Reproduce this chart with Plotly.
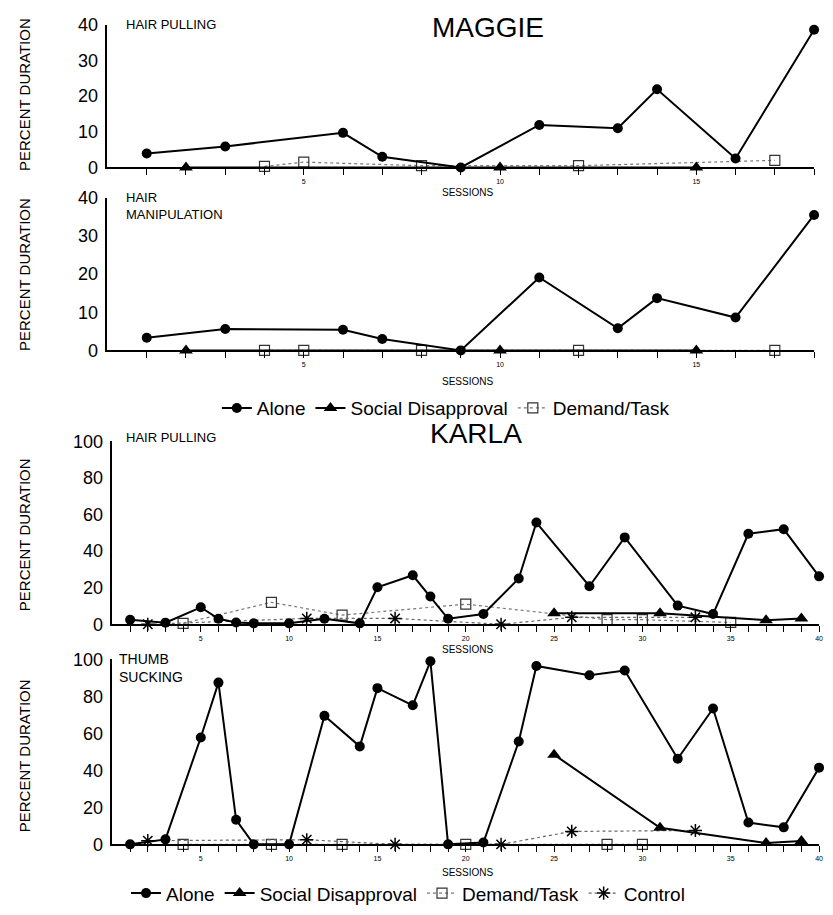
import plotly.graph_objects as go

W, H = 833, 915

# ---------------- data ----------------
# MAGGIE - hair pulling
mg_hp_alone_x = [1, 3, 6, 7, 9, 11, 13, 14, 16, 18]
mg_hp_alone_y = [3.9, 5.9, 9.7, 3.0, 0.0, 11.9, 11.0, 21.9, 2.5, 38.6]
mg_hp_social_x = [2, 10, 15]
mg_hp_social_y = [0, 0, 0]
mg_hp_demand_x = [4, 5, 8, 12, 17]
mg_hp_demand_y = [0.3, 1.5, 0.5, 0.5, 2.0]

# MAGGIE - hair manipulation
mg_hm_alone_x = [1, 3, 6, 7, 9, 11, 13, 14, 16, 18]
mg_hm_alone_y = [3.3, 5.6, 5.4, 3.0, 0.0, 19.1, 5.8, 13.7, 8.6, 35.5]
mg_hm_social_x = [2, 10, 15]
mg_hm_social_y = [0, 0, 0]
mg_hm_demand_x = [4, 5, 8, 12, 17]
mg_hm_demand_y = [0, 0, 0, 0, 0]

# KARLA - hair pulling
ka_hp_alone_x = [1, 3, 5, 6, 7, 8, 10, 12, 14, 15, 17, 18, 19, 21, 23, 24, 27, 29, 32, 34, 36, 38, 40]
ka_hp_alone_y = [2.5, 0.9, 9.3, 3.0, 1.0, 0.5, 0.5, 3.0, 0.5, 20.2, 26.8, 15.2, 3.0, 5.6, 25.0, 55.6, 20.8, 47.5, 10.2, 5.6, 49.5, 52.0, 26.2]
ka_hp_social_x = [25, 31, 37, 39]
ka_hp_social_y = [6.0, 6.0, 2.2, 3.2]
ka_hp_demand_x = [4, 9, 13, 20, 28, 30, 35]
ka_hp_demand_y = [0.5, 12.0, 5.0, 11.0, 2.5, 2.5, 1.0]
ka_hp_control_x = [2, 11, 16, 22, 26, 33]
ka_hp_control_y = [0.0, 3.2, 3.2, 0.0, 3.8, 3.8]

# KARLA - thumb sucking
ka_ts_alone_x = [1, 3, 5, 6, 7, 8, 10, 12, 14, 15, 17, 18, 19, 21, 23, 24, 27, 29, 32, 34, 36, 38, 40]
ka_ts_alone_y = [0.0, 2.7, 57.8, 87.5, 13.3, 0.0, 0.0, 69.5, 53.0, 84.5, 75.2, 99.0, 0.0, 1.0, 55.6, 96.5, 91.5, 94.0, 46.3, 73.5, 11.8, 9.2, 41.5]
ka_ts_social_x = [25, 31, 37, 39]
ka_ts_social_y = [48.5, 9.0, 0.7, 1.8]
ka_ts_demand_x = [4, 9, 13, 20, 28, 30]
ka_ts_demand_y = [0, 0, 0, 0, 0, 0]
ka_ts_control_x = [2, 11, 16, 22, 26, 33]
ka_ts_control_y = [2.0, 2.5, 0.0, 0.0, 7.0, 7.5]

FONT = "Liberation Sans, Arial, sans-serif"
NARROW = "Liberation Sans Narrow, Arial Narrow, Liberation Sans, sans-serif"


def px_x(p):
    return p / W


def px_y(p):
    return 1 - p / H


fig = go.Figure()


def add_alone(x, y, ax, legend, show):
    fig.add_trace(go.Scatter(
        x=x, y=y, mode="lines+markers", name="Alone",
        line=dict(color="black", width=2),
        marker=dict(symbol="circle", size=10, color="black"),
        xaxis="x" + ax, yaxis="y" + ax, cliponaxis=False,
        legend=legend, showlegend=show, legendrank=1))


def add_social(x, y, ax, legend, show):
    fig.add_trace(go.Scatter(
        x=x, y=y, mode="lines+markers", name="Social Disapproval",
        line=dict(color="black", width=2),
        marker=dict(symbol="triangle-up", size=12, color="black"),
        xaxis="x" + ax, yaxis="y" + ax, cliponaxis=False,
        legend=legend, showlegend=show, legendrank=2))


def add_demand(x, y, ax, legend, show):
    fig.add_trace(go.Scatter(
        x=x, y=y, mode="lines+markers", name="Demand/Task",
        line=dict(color="#777777", width=1.2, dash="dot"),
        marker=dict(symbol="square-open", size=10, color="#333333",
                    line=dict(width=1.2)),
        xaxis="x" + ax, yaxis="y" + ax, cliponaxis=False,
        legend=legend, showlegend=show, legendrank=3))


def add_control(x, y, ax, legend, show):
    fig.add_trace(go.Scatter(
        x=x, y=y, mode="lines+markers", name="Control",
        line=dict(color="#666666", width=1.2, dash="dot"),
        marker=dict(symbol="asterisk-open", size=11, color="black",
                    line=dict(width=1.5, color="black")),
        xaxis="x" + ax, yaxis="y" + ax, cliponaxis=False,
        legend=legend, showlegend=show, legendrank=4))


# panel 1: Maggie hair pulling
add_demand(mg_hp_demand_x, mg_hp_demand_y, "", "legend", True)
add_social(mg_hp_social_x, mg_hp_social_y, "", "legend", True)
add_alone(mg_hp_alone_x, mg_hp_alone_y, "", "legend", True)
# panel 2: Maggie hair manipulation
add_demand(mg_hm_demand_x, mg_hm_demand_y, "2", "legend", False)
add_social(mg_hm_social_x, mg_hm_social_y, "2", "legend", False)
add_alone(mg_hm_alone_x, mg_hm_alone_y, "2", "legend", False)
# panel 3: Karla hair pulling
add_demand(ka_hp_demand_x, ka_hp_demand_y, "3", "legend2", True)
add_control(ka_hp_control_x, ka_hp_control_y, "3", "legend2", True)
add_alone(ka_hp_alone_x, ka_hp_alone_y, "3", "legend2", True)
add_social(ka_hp_social_x, ka_hp_social_y, "3", "legend2", True)
# panel 4: Karla thumb sucking
add_demand(ka_ts_demand_x, ka_ts_demand_y, "4", "legend2", False)
add_control(ka_ts_control_x, ka_ts_control_y, "4", "legend2", False)
add_alone(ka_ts_alone_x, ka_ts_alone_y, "4", "legend2", False)
add_social(ka_ts_social_x, ka_ts_social_y, "4", "legend2", False)


# ---------------- axes ----------------
def xaxis(n, x0, x1, anchor, labelled):
    vals = list(range(1, n + 1))
    return dict(
        domain=[px_x(x0), px_x(x1)], range=[0, n], anchor=anchor,
        showline=True, linecolor="black", linewidth=2,
        ticks="outside", ticklen=6, tickwidth=1, tickcolor="black",
        tickvals=vals, ticktext=[str(v) if v in labelled else "" for v in vals],
        tickfont=dict(size=7, family=FONT, color="black"),
        showgrid=False, zeroline=False, fixedrange=True)


def yaxis(top, bottom, ymax, step, anchor):
    return dict(
        domain=[px_y(bottom), px_y(top)], range=[0, ymax], anchor=anchor,
        showline=True, linecolor="black", linewidth=1.5,
        ticks="", tickvals=list(range(0, ymax + 1, step)),
        tickfont=dict(size=18, family=FONT, color="black"),
        ticklabelstandoff=4,
        showgrid=False, zeroline=False, fixedrange=True)


legend_common = dict(orientation="h", xanchor="center", yanchor="middle",
                     font=dict(size=19, family=FONT, color="black"),
                     bgcolor="rgba(0,0,0,0)", itemwidth=30, tracegroupgap=0)

fig.update_layout(
    width=W, height=H, margin=dict(l=0, r=0, t=0, b=0),
    paper_bgcolor="white", plot_bgcolor="white",
    font=dict(family=FONT, color="black"),
    xaxis=xaxis(18, 108, 818, "y", [5, 10, 15]),
    yaxis=yaxis(15, 161, 40, 10, "x"),
    xaxis2=xaxis(18, 108, 818, "y2", [5, 10, 15]),
    yaxis2=yaxis(192, 348, 40, 10, "x2"),
    xaxis3=xaxis(40, 113, 823, "y3", [5, 10, 15, 20, 25, 30, 35, 40]),
    yaxis3=yaxis(441, 628, 100, 20, "x3"),
    xaxis4=xaxis(40, 113, 823, "y4", [5, 10, 15, 20, 25, 30, 35, 40]),
    yaxis4=yaxis(664, 853, 100, 20, "x4"),
    legend=dict(legend_common, x=px_x(448), y=px_y(407)),
    legend2=dict(legend_common, x=px_x(410), y=px_y(903)),
)


# ---------------- text ----------------
def text(s, x, y, size, xanchor="center", angle=0, family=FONT):
    fig.add_annotation(text=s, x=px_x(x), y=px_y(y), xref="paper", yref="paper",
                       showarrow=False, xanchor=xanchor, yanchor="middle",
                       textangle=angle, align="left",
                       font=dict(size=size, family=family, color="black"))


text("MAGGIE", 490, 18, 28)
text("KARLA", 478, 433, 28)

text("HAIR PULLING", 125, 15, 13, "left")
text("HAIR<br>MANIPULATION", 125, 200, 13, "left")
text("HAIR PULLING", 125, 437, 13, "left")
text("THUMB<br>SUCKING", 118, 673, 14, "left")

for yy in (187, 380, 654, 882):
    text("SESSIONS", 470, yy, 10)

for yc in (86, 270, 536, 762):
    text("PERCENT DURATION", 24, yc, 15, angle=-90, family=NARROW)

fig.write_html("out.html")
